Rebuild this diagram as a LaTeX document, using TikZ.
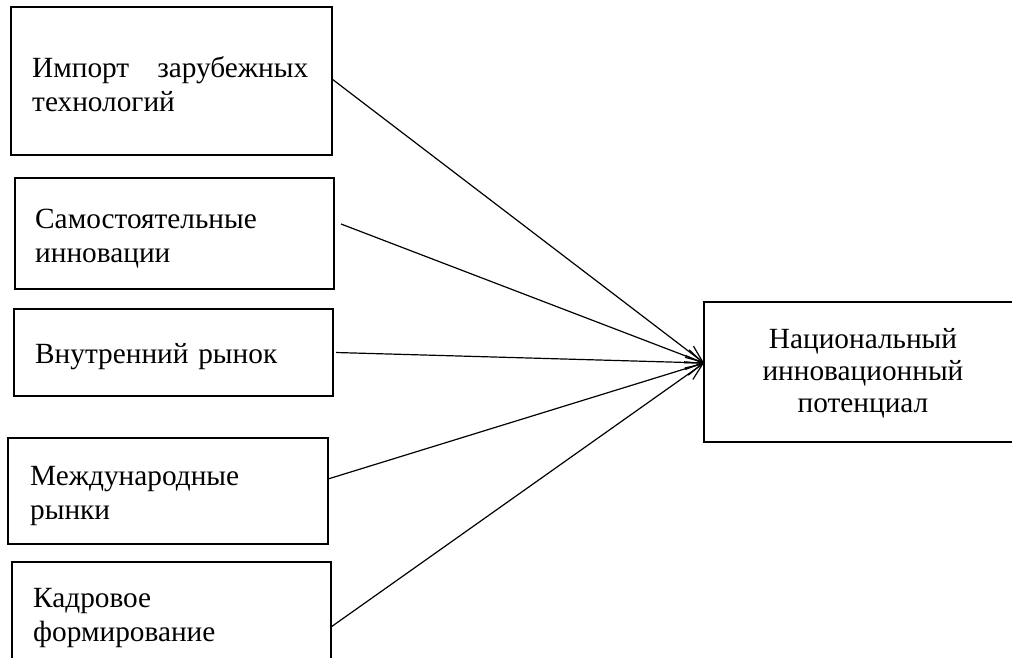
\documentclass[tikz,border=0pt]{standalone}
\usepackage{fontspec}
\setmainfont{Liberation Serif}
\newfontfamily\boxfont{Liberation Serif}
\usetikzlibrary{arrows.meta}
\begin{document}
\begin{tikzpicture}[x=1pt,y=-1pt,
  box/.style={draw, line width=2.2pt, rectangle, anchor=north west, inner sep=0pt, outer sep=0pt},
  txt/.style={anchor=base west, inner sep=0pt, align=left, text width=300pt,
              font=\boxfont\fontsize{29.3}{34}\selectfont},
  link/.style={line width=1.2pt, -{Straight Barb[length=17pt,width=14pt,line width=1.2pt]}}]
  \useasboundingbox (0,0) rectangle (1012,658);
  \fill[white] (0,0) rectangle (1012,658);
  \clip (0,0) rectangle (1012,658);

  % factor boxes on the left
  \node[box, minimum width=321pt, minimum height=148pt] (b1) at (11,7) {};
  \node[box, minimum width=319pt, minimum height=111pt] (b2) at (15,178) {};
  \node[box, minimum width=319pt, minimum height=87pt]  (b3) at (14,309) {};
  \node[box, minimum width=320pt, minimum height=106pt] (b4) at (8,438) {};
  \node[box, minimum width=319pt, minimum height=120pt] (b5) at (12,562) {};

  % target box on the right
  \node[box, minimum width=316pt, minimum height=140pt] (nat) at (704,302) {};

  % labels
  \node[txt, text width=276pt] (t1) at (32,78) {Импорт\hfill зарубежных\\технологий};
  \node[txt] (t2) at (35,228) {Самостоятельные\\инновации};
  \node[txt] (t3) at (35,363) {Внутренний рынок};
  \node[txt] (t4) at (30,485) {Международные\\рынки};
  \node[txt] (t5) at (33,607) {Кадровое\\формирование};
  \node[txt, anchor=base, text width=260pt, align=center,
        font=\boxfont\fontsize{29.3}{32}\selectfont] (tn) at (863,348)
        {Национальный\\инновационный\\потенциал};

  % connectors
  \coordinate (tip) at ([yshift=9pt]nat.west);
  \draw[link] ([yshift=2pt]b1.east) -- (tip);
  \draw[link] ([xshift=7pt,yshift=9.5pt]b2.east) -- (tip);
  \draw[link] ([xshift=3pt]b3.east) -- (tip);
  \draw[link] ([yshift=12pt]b4.east) -- (tip);
  \draw[link] ([yshift=-65pt]b5.north east) -- (tip);
\end{tikzpicture}
\end{document}
